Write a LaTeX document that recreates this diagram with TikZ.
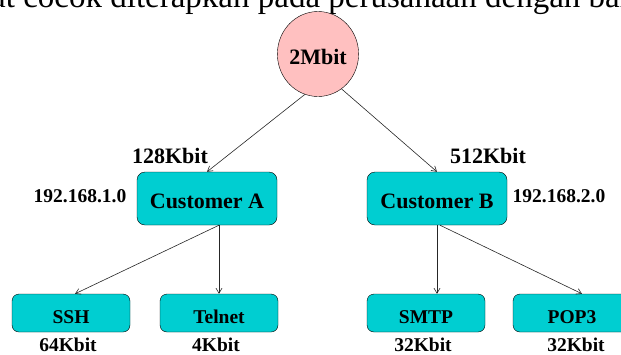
\documentclass[tikz,border=0pt]{standalone}
\usepackage{fontspec}
\setmainfont{Liberation Serif}
\usetikzlibrary{shapes.geometric,arrows.meta}
\definecolor{boxcyan}{RGB}{0,206,209}
\definecolor{ratepink}{RGB}{255,192,192}

\begin{document}
\begin{tikzpicture}[x=1pt, y=-1pt,
	big/.style={font=\fontsize{22}{24}\selectfont\bfseries},
	small/.style={font=\fontsize{19.5}{22}\selectfont\bfseries},
	rate/.style={ellipse, draw, fill=ratepink, minimum width=78pt, minimum height=85pt, inner sep=0pt, big, text height=20pt, text depth=0pt},
	cust/.style={draw, fill=boxcyan, rounded corners=8pt, minimum width=140pt, minimum height=53pt, big, text height=20pt, text depth=0pt},
	serv/.style={draw, fill=boxcyan, rounded corners=7pt, minimum width=118pt, minimum height=38pt, small, text height=20pt, text depth=0pt},
	link/.style={draw=black!85, line width=0.6pt, -{Straight Barb[length=5pt,width=6pt]}}]
				\useasboundingbox (0,0) rectangle (621,354);
				\clip (0,0) rectangle (621,354);
				\node [font=\fontsize{33}{36}\selectfont, anchor=base west, inner sep=0pt] (intro) at (-9,7) {at cocok diterapkan pada perusahaan dengan ban};
				\node [rate] (root) at (318,54) {2Mbit};
				\node [cust] (custa) at (207,198.5) {Customer A};
				\node [cust] (custb) at (437,198.5) {Customer B};
				\node [serv] (ssh) at (71,313) {SSH};
				\node [serv] (telnet) at (219,313) {Telnet};
				\node [serv] (smtp) at (426,313) {SMTP};
				\node [serv] (pop) at (572,313) {POP3};
				\node [big, anchor=base] (upa) at (170,163) {128Kbit};
				\node [big, anchor=base] (upb) at (488,163) {512Kbit};
				\node [small, anchor=base] (neta) at (80,202) {192.168.1.0};
				\node [small, anchor=base] (netb) at (559,202) {192.168.2.0};
				\node [small, anchor=base] (rssh) at (68,351) {64Kbit};
				\node [small, anchor=base] (rtelnet) at (216,351) {4Kbit};
				\node [small, anchor=base] (rsmtp) at (423,351) {32Kbit};
				\node [small, anchor=base] (rpop) at (576,351) {32Kbit};
				\draw [link] (root.252) -- (custa.north);
				\draw [link] (root.304) -- (custb.north);
				\draw [link] (telnet.north |- custa.south) -- ([xshift=4pt]ssh.north);
				\draw [link] (telnet.north |- custa.south) -- (telnet.north);
				\draw [link] (custb.south) -- (custb.south |- smtp.north);
				\draw [link] ([xshift=3pt]custb.south) -- ([xshift=10pt]pop.north);
			\end{tikzpicture}
\end{document}
